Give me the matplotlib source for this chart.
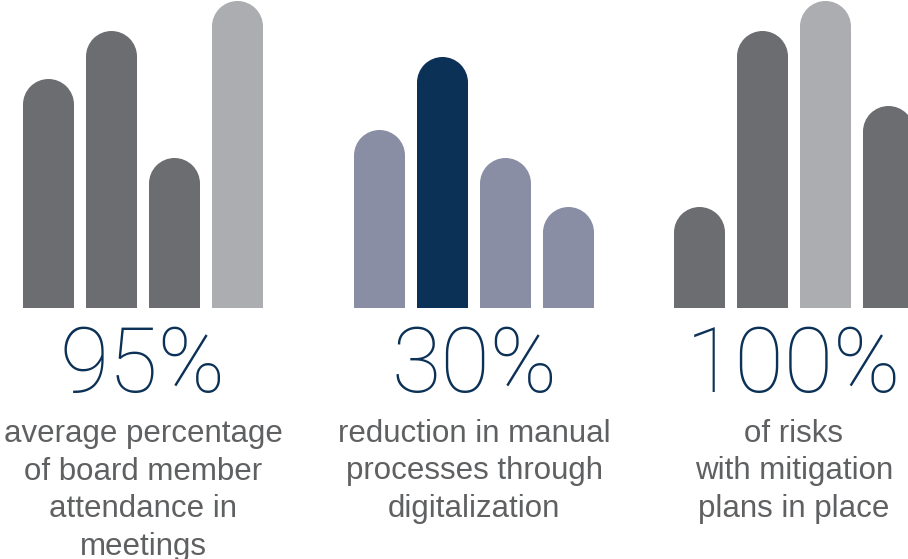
import numpy as np
import matplotlib.pyplot as plt
from matplotlib.path import Path
from matplotlib.patches import PathPatch

# bar heights (px above the common baseline), one list per group
heights_attendance = [229, 277, 150, 307]
heights_digital = [178, 251, 150, 101]
heights_risks = [101, 277, 307, 202]

DARK = "#6c6d71"
LIGHT = "#acadb1"
SLATE = "#8a8ea5"
NAVY = "#0c3157"

colors_attendance = [DARK, DARK, DARK, LIGHT]
colors_digital = [SLATE, NAVY, SLATE, SLATE]
colors_risks = [DARK, DARK, LIGHT, DARK]

big_numbers = ["95%", "30%", "100%"]
captions = [
    ["average percentage", "of board member", "attendance in", "meetings"],
    ["reduction in manual", "processes through", "digitalization"],
    ["of risks", "with mitigation", "plans in place"],
]

W, H = 908, 559
BASE = 308          # baseline of bars, px from top
group_left = [23, 354, 674]
bar_w, bar_step = 51, 63


def rounded_bar(ax, x0, w, h, color):
    r = w / 2
    arc = Path.arc(0, 180)
    av = arc.vertices * r + [x0 + r, h - r]
    verts = [(x0, 0), (x0 + w, 0)] + list(av) + [(x0, 0)]
    codes = [Path.MOVETO, Path.LINETO, Path.LINETO] + list(arc.codes[1:]) + [Path.CLOSEPOLY]
    ax.add_patch(PathPatch(Path(verts, codes), facecolor=color, edgecolor="none", lw=0))


fig = plt.figure(figsize=(W / 100, H / 100), dpi=100)
ax = fig.add_axes([0, 0, 1, 1])
ax.set_xlim(0, W)
ax.set_ylim(BASE - H, BASE)
ax.axis("off")

all_heights = [heights_attendance, heights_digital, heights_risks]
all_colors = [colors_attendance, colors_digital, colors_risks]

for g in range(3):
    for i, (h, c) in enumerate(zip(all_heights[g], all_colors[g])):
        rounded_bar(ax, group_left[g] + i * bar_step, bar_w, h, c)

    cx = group_left[g] + (3 * bar_step + bar_w) / 2
    ax.text(cx, BASE - 392, big_numbers[g], ha="center", va="baseline",
            fontsize=65, color=NAVY, family="Roboto", fontweight="light")
    for j, line in enumerate(captions[g]):
        ax.text(cx, BASE - 442 - j * 37.5, line, ha="center", va="baseline",
                fontsize=22.5, color="#5f6062", family="Liberation Sans")

fig.savefig("out.png", dpi=100)
